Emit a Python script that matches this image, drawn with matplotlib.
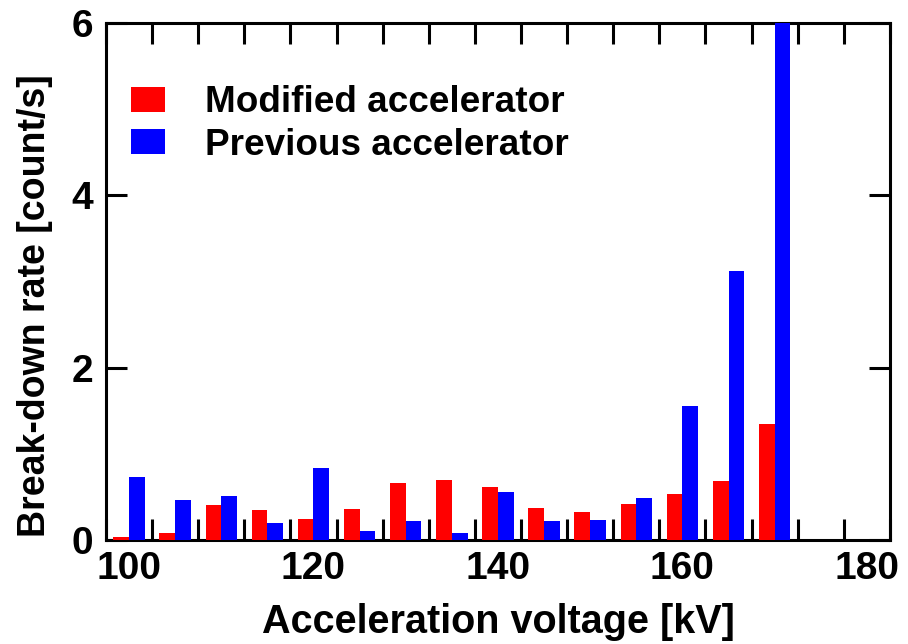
import numpy as np
import matplotlib
matplotlib.use("Agg")
import matplotlib.pyplot as plt
from matplotlib.ticker import FixedLocator

# Break-down rate per acceleration-voltage bin
voltages = [100, 105, 110, 115, 120, 125, 130, 135, 140, 145, 150, 155, 160, 165, 170]
modified_rate = [0.03, 0.08, 0.41, 0.35, 0.24, 0.355, 0.665, 0.70, 0.61, 0.37,
                 0.33, 0.42, 0.53, 0.685, 1.345]
previous_rate = [0.735, 0.46, 0.51, 0.20, 0.84, 0.11, 0.225, 0.08, 0.555, 0.215,
                 0.235, 0.485, 1.555, 3.12, 6.0]
series_labels = ["Modified accelerator", "Previous accelerator"]
x_tick_labels = [100, 120, 140, 160, 180]
y_tick_labels = [0, 2, 4, 6]

plt.rcParams["font.family"] = ["Liberation Sans", "DejaVu Sans"]
plt.rcParams["font.weight"] = "bold"

fig = plt.figure(figsize=(9.08, 6.44), dpi=100)
ax = fig.add_axes([0.1167, 0.1615, 0.8634, 0.8033])

bar_w = 1.7
x = np.array(voltages, dtype=float)
ax.bar(x - bar_w / 2, modified_rate, width=bar_w, color="#ff0000",
       label=series_labels[0], zorder=3)
ax.bar(x + bar_w / 2, previous_rate, width=bar_w, color="#0000ff",
       label=series_labels[1], zorder=3)

ax.set_xlim(97.5, 182.5)
ax.set_ylim(0, 6)

# x: labels every 20 kV without marks, bin-edge ticks every 5 kV
ax.xaxis.set_major_locator(FixedLocator(x_tick_labels))
ax.xaxis.set_minor_locator(FixedLocator(np.arange(97.5, 183, 5)))
ax.set_xticklabels([str(v) for v in x_tick_labels])
ax.tick_params(axis="x", which="major", length=0, pad=8, labelsize=28)
ax.tick_params(axis="x", which="minor", direction="in", length=15, width=2.2,
               top=True, bottom=True)

ax.yaxis.set_major_locator(FixedLocator(y_tick_labels))
ax.set_yticklabels([str(v) for v in y_tick_labels])
ax.tick_params(axis="y", which="major", direction="in", length=15, width=2.2,
               left=True, right=True, pad=9, labelsize=28)

for s in ax.spines.values():
    s.set_linewidth(2.2)

ax.set_xlabel("Acceleration voltage [kV]", fontsize=28.5, fontweight="bold")
ax.xaxis.set_label_coords(0.5, -0.121)
ax.set_ylabel("Break-down rate [count/s]", fontsize=27, fontweight="bold")
ax.yaxis.set_label_coords(-0.0675, 0.454)

ax.legend(loc="upper left", bbox_to_anchor=(0.032, 0.879), frameon=False,
          fontsize=26.6, handlelength=0.93, handleheight=0.65,
          handletextpad=1.07, labelspacing=0.2, borderpad=0, borderaxespad=0)

fig.savefig("out.png", dpi=100)
